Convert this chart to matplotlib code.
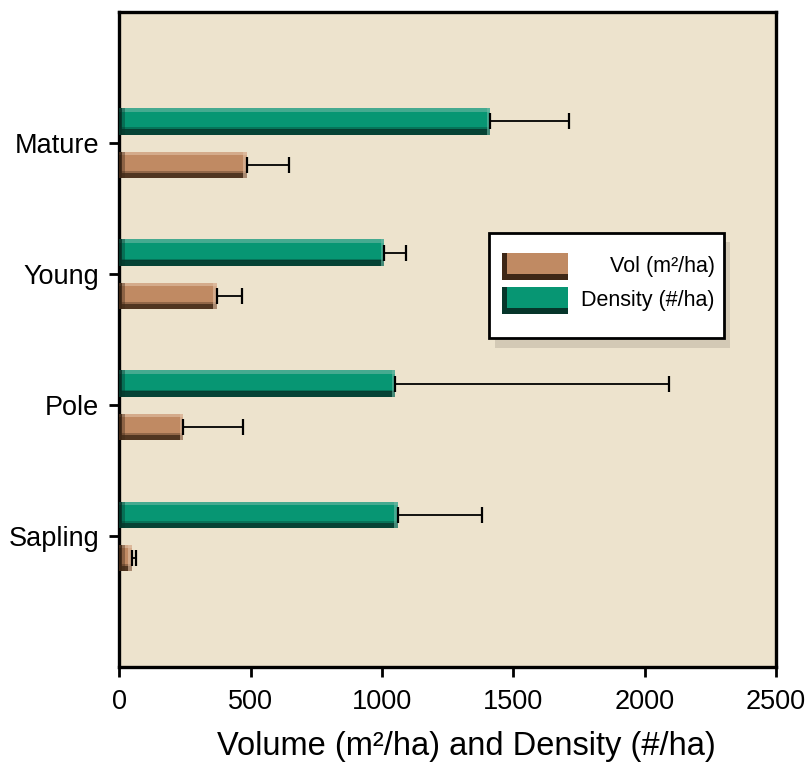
import numpy as np
import matplotlib.pyplot as plt
from matplotlib.patches import Rectangle

plt.rcParams['font.family'] = ['Liberation Sans', 'DejaVu Sans']

# Data
stages = ["Sapling", "Pole", "Young", "Mature"]
vol = [46, 243, 370, 484]
vol_err = [16, 228, 95, 160]
density = [1059, 1051, 1009, 1411]
density_err = [323, 1040, 83, 302]

green = "#079673"
green_dark = "#06352a"
green_light = "#6fb9a4"
brown = "#c08a63"
brown_dark = "#3e2716"
brown_light = "#e3c2a6"

fig = plt.figure(figsize=(8.05, 7.72), dpi=100)
ax = fig.add_axes([0.1484, 0.1355, 0.8155, 0.849])
ax.set_facecolor("#ede3cd")

y = np.arange(1, len(stages) + 1)
off = 0.165
h = 0.2


def bevel_bars(ypos, vals, base, dark, light):
    ax.barh(ypos, vals, height=h, color=base, zorder=2)
    # bottom shadow and top highlight
    ax.barh(ypos - h * 0.4, vals, height=h * 0.2, color=dark, alpha=0.85, zorder=3)
    ax.barh(ypos - h * 0.27, vals, height=h * 0.08, color=dark, alpha=0.35, zorder=3)
    ax.barh(ypos + h * 0.43, vals, height=h * 0.14, color=light, alpha=0.6, zorder=3)
    # dark left end, light right end
    ax.barh(ypos, [min(v, 10) for v in vals], height=h, color=dark, alpha=0.9, zorder=4)
    ax.barh(ypos, [min(v, 12) for v in vals], height=h,
            left=[min(v, 10) for v in vals], color=dark, alpha=0.4, zorder=4)
    ax.barh(ypos, [min(v, 12) for v in vals], height=h,
            left=[max(v - 12, 0) for v in vals], color=light, alpha=0.6, zorder=4)


bevel_bars(y + off, density, green, green_dark, green_light)
bevel_bars(y - off, vol, brown, brown_dark, brown_light)

ax.errorbar(density, y + off, xerr=[np.zeros(len(y)), density_err], fmt="none",
            ecolor="black", elinewidth=1.3, capsize=6, capthick=1.6, zorder=5)
ax.errorbar(vol, y - off, xerr=[np.zeros(len(y)), vol_err], fmt="none",
            ecolor="black", elinewidth=1.3, capsize=6, capthick=1.6, zorder=5)

ax.set_xlim(0, 2500)
ax.set_ylim(0, 5)
ax.set_xticks([0, 500, 1000, 1500, 2000, 2500])
ax.set_yticks(y)
ax.set_yticklabels(stages)
ax.tick_params(axis="both", direction="out", length=7.5, width=2, labelsize=19.5, pad=8)
ax.tick_params(axis="y", labelsize=19.5, pad=7)
for s in ax.spines.values():
    s.set_linewidth(2.4)
ax.set_xlabel("Volume (m²/ha) and Density (#/ha)", fontsize=23.5)
ax.xaxis.set_label_coords(0.529, -0.097)

# Legend drawn by hand (right-aligned labels, drop shadow)
ax.add_patch(Rectangle((0.572, 0.488), 0.358, 0.161, transform=ax.transAxes,
                       facecolor="#9a9080", alpha=0.3, edgecolor="none", zorder=6))
ax.add_patch(Rectangle((0.563, 0.502), 0.358, 0.161, transform=ax.transAxes,
                       facecolor="white", edgecolor="black", linewidth=2, zorder=7))
for yb, base, dark, text in [(0.591, brown, brown_dark, "Vol (m²/ha)"),
                             (0.539, green, green_dark, "Density (#/ha)")]:
    ax.add_patch(Rectangle((0.583, yb), 0.100, 0.041, transform=ax.transAxes,
                           facecolor=base, edgecolor="none", zorder=8))
    ax.add_patch(Rectangle((0.583, yb), 0.100, 0.009, transform=ax.transAxes,
                           facecolor=dark, edgecolor="none", zorder=9))
    ax.add_patch(Rectangle((0.583, yb), 0.008, 0.041, transform=ax.transAxes,
                           facecolor=dark, edgecolor="none", zorder=9))
    ax.text(0.907, yb + 0.021, text, transform=ax.transAxes, ha="right", va="center",
            fontsize=15.5, zorder=10)

fig.savefig("out.png", dpi=100)
